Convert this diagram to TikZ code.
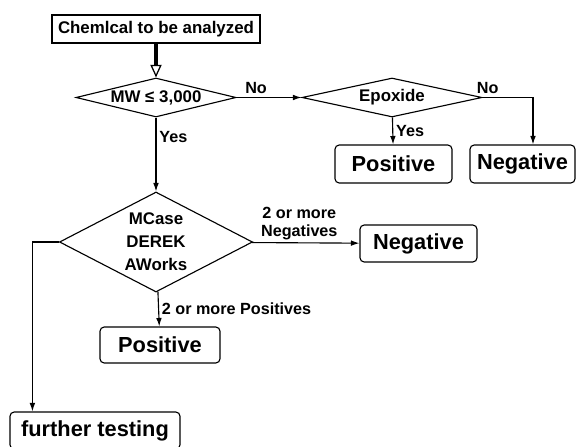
\documentclass[tikz,border=0pt]{standalone}
\usepackage{fontspec}
\setmainfont{Liberation Sans}
\usetikzlibrary{arrows.meta,positioning,calc,shapes.geometric}

\begin{document}
\begin{tikzpicture}[x=0.025cm, y=-0.025cm,
	  txt/.style={font=\fontsize{12}{16.4}\selectfont\bfseries},
	  lbl/.style={font=\fontsize{11.5}{12.8}\selectfont\bfseries, inner sep=2pt},
	  result/.style={draw, rounded corners=3pt, line width=0.8pt, inner sep=0pt,
	    font=\fontsize{15.5}{18}\selectfont\bfseries},
	  decision/.style={draw, diamond, line width=0.8pt, inner sep=0pt, aspect=4, align=center, txt},
	  flow/.style={line width=0.8pt, -{Latex[length=6pt,width=4pt]}}]
	  \useasboundingbox (0,0) rectangle (586,447);

	  \node (chem) [draw, line width=0.8pt, txt, minimum width=5.2cm, minimum height=0.7cm, inner sep=0pt] at (156,29) {Chemlcal to be analyzed};
	  \node (mw) [decision, minimum width=4cm, minimum height=0.975cm] at (156,97.5) {MW ≤ 3,000};
	  \node (epox) [decision, minimum width=4.5cm, minimum height=0.975cm] at (392,97.5) {Epoxide};
	  \node (posR) [result, minimum width=2.925cm, minimum height=0.95cm] at (393.5,164) {Positive};
	  \node (negR) [result, minimum width=2.625cm, minimum height=0.95cm] at (522.5,164) {Negative};
	  \node (tools) [decision, aspect=1.9, minimum width=4.825cm, minimum height=2.5cm] at (156,242) {MCase\\DEREK\\AWorks};
	  \node (negM) [result, minimum width=2.925cm, minimum height=0.925cm] at (418.5,243.5) {Negative};
	  \node (posL) [result, minimum width=3cm, minimum height=0.9cm] at (160,345) {Positive};
	  \node (further) [result, minimum width=4.25cm, minimum height=0.925cm] at (95,430.5) {further testing};

	  % thick arrow into the first test
	  \draw[line width=2.5pt, -{Triangle[open, length=9pt, width=8pt, line width=0.9pt]}] (chem) -- (mw);

	  \path[flow]
	  (mw) edge node [lbl, above, pos=0.3] {No} (epox)
	       edge node [lbl, right, pos=0.26] {Yes} (tools)
	  (epox) edge node [lbl, right] {Yes} (posR)
	  (tools) edge node [lbl, above, pos=0.44, align=center] {2 or more\\Negatives} (negM)
	          edge node [lbl, right, pos=0.49] {2 or more Positives} (posL);
	  \draw[flow] (epox.east) -| node [lbl, above, pos=0.05] {No} ($(negR.north)+(10.5,0)$);
	  \draw[flow] (tools.west) -| ($(further.north west)+(23,0)$);
	\end{tikzpicture}
\end{document}
